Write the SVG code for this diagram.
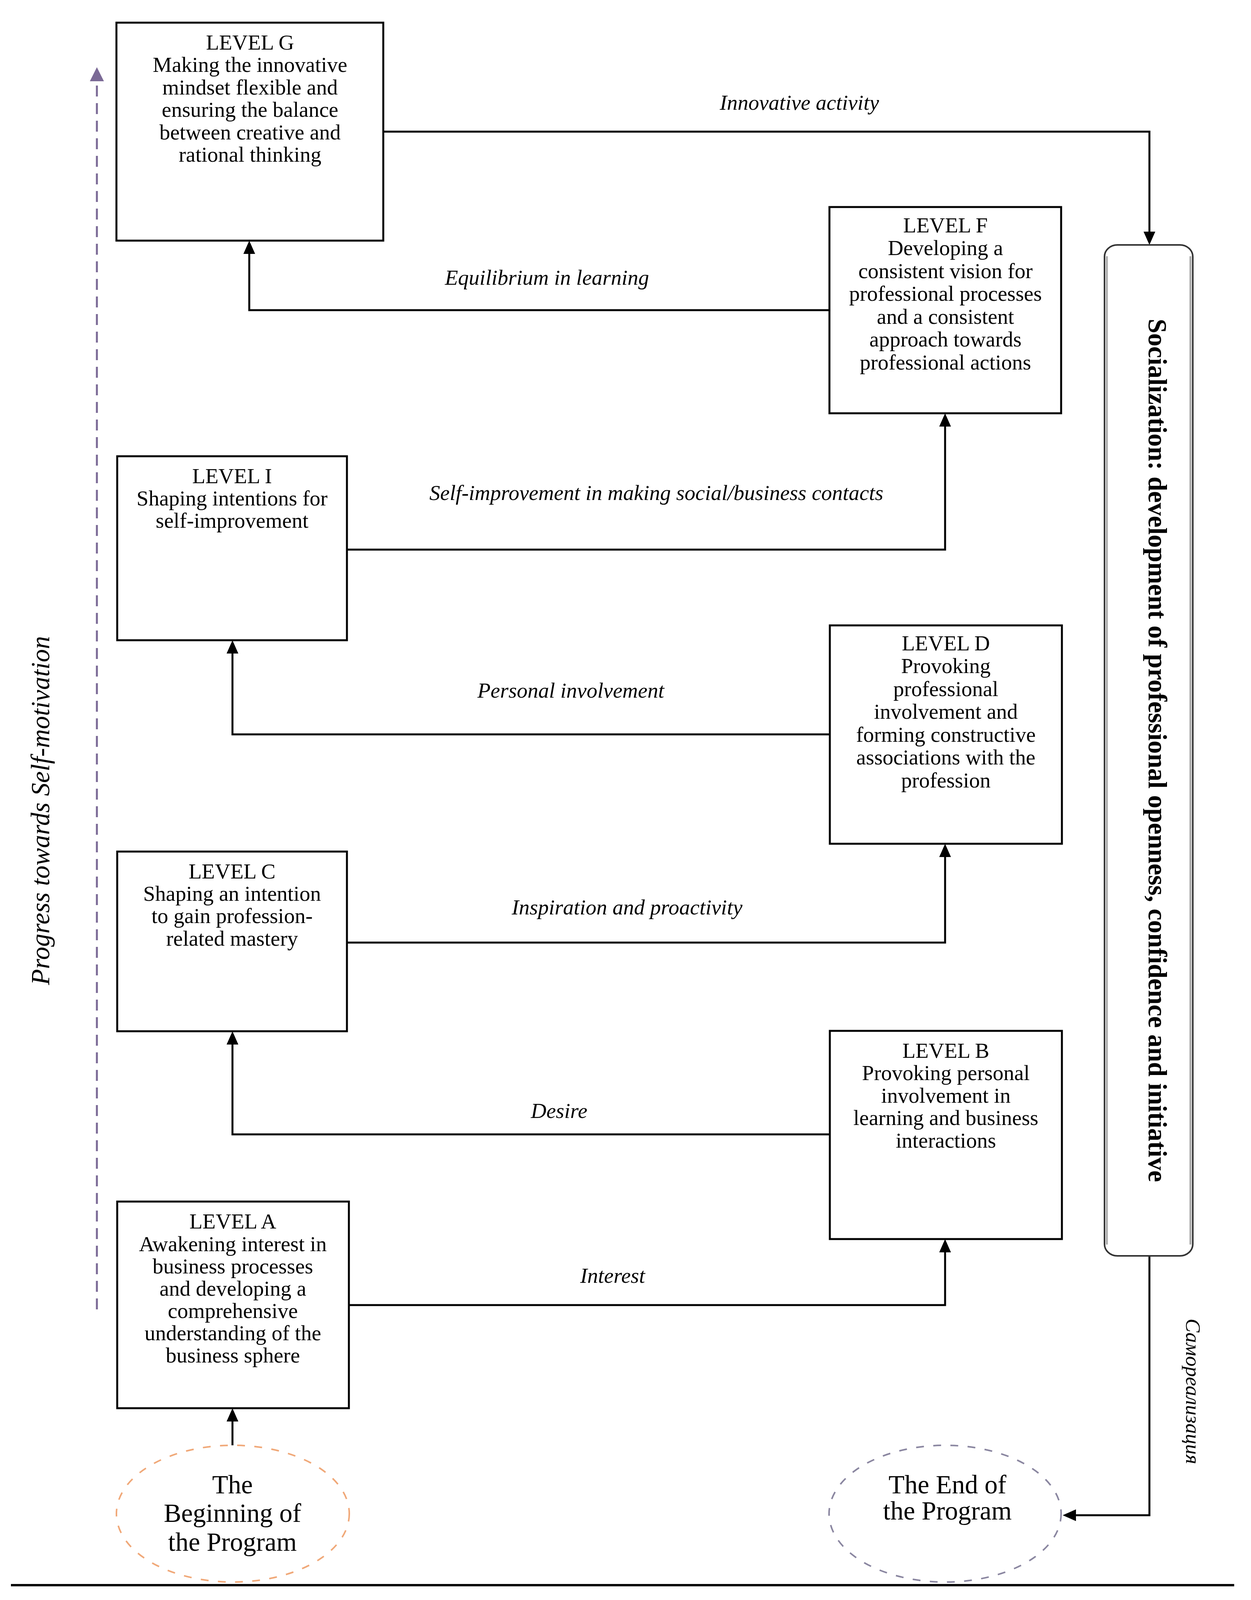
<svg xmlns="http://www.w3.org/2000/svg" width="3202" height="4455" viewBox="0 0 3202 4455">
<style>
  text { font-family: "Liberation Serif", "Times New Roman", serif; fill: #000; }
  .box { fill: #fff; stroke: #000; stroke-width: 5; }
  .bt { font-size: 55px; text-anchor: middle; }
  .lbl { font-size: 55px; font-style: italic; text-anchor: middle; }
  .conn { fill: none; stroke: #000; stroke-width: 5; }
  .circ { font-size: 67px; text-anchor: middle; }
</style>
<defs>
  <marker id="arr" markerUnits="userSpaceOnUse" markerWidth="36" markerHeight="32" viewBox="0 0 36 32" refX="24" refY="16" orient="auto">
    <path d="M0,1 L34,16 L0,31 z" fill="#000"/>
  </marker>
</defs>
<rect width="3202" height="4455" fill="#fff"/>

<g id="progress">
  <line x1="248" y1="3352" x2="248" y2="206" stroke="#7b6a96" stroke-width="5" stroke-dasharray="28 17"/>
  <polygon points="248,172 230,208 266,208" fill="#7b6a96"/>
  <text transform="translate(126,2075) rotate(-90)" font-size="67" font-style="italic" text-anchor="middle">Progress towards Self-motivation</text>
</g>

<g id="connectors">
  <path class="conn" d="M981,337 H2942 V617" marker-end="url(#arr)"/>
  <path class="conn" d="M2123,794 H638 V626" marker-end="url(#arr)"/>
  <path class="conn" d="M888,1407 H2419 V1068" marker-end="url(#arr)"/>
  <path class="conn" d="M2124,1880 H595 V1649" marker-end="url(#arr)"/>
  <path class="conn" d="M888,2413 H2419 V2170" marker-end="url(#arr)"/>
  <path class="conn" d="M2124,2904 H595 V2650" marker-end="url(#arr)"/>
  <path class="conn" d="M893,3341 H2419 V3182" marker-end="url(#arr)"/>
  <path class="conn" d="M595,3700 V3615" marker-end="url(#arr)"/>
  <path class="conn" d="M2942,3215 V3879 H2730" marker-end="url(#arr)"/>
  <text class="lbl" x="2046" y="281">Innovative activity</text>
  <text class="lbl" x="1400" y="729">Equilibrium in learning</text>
  <text class="lbl" x="1680" y="1280">Self-improvement in making social/business contacts</text>
  <text class="lbl" x="1461" y="1786">Personal involvement</text>
  <text class="lbl" x="1605" y="2341">Inspiration and proactivity</text>
  <text class="lbl" x="1431" y="2862">Desire</text>
  <text class="lbl" x="1568" y="3284">Interest</text>
</g>

<g id="levelG">
  <rect class="box" x="298" y="58" width="683" height="558"/>
  <text class="bt" x="640" y="127">LEVEL G</text>
  <text class="bt" x="640" y="184">Making the innovative</text>
  <text class="bt" x="640" y="242">mindset flexible and</text>
  <text class="bt" x="640" y="299">ensuring the balance</text>
  <text class="bt" x="640" y="357">between creative and</text>
  <text class="bt" x="640" y="414">rational thinking</text>
</g>

<g id="levelF">
  <rect class="box" x="2123" y="530" width="593" height="528"/>
  <text class="bt" x="2420" y="595">LEVEL F</text>
  <text class="bt" x="2420" y="653">Developing a</text>
  <text class="bt" x="2420" y="712">consistent vision for</text>
  <text class="bt" x="2420" y="770">professional processes</text>
  <text class="bt" x="2420" y="829">and a consistent</text>
  <text class="bt" x="2420" y="887">approach towards</text>
  <text class="bt" x="2420" y="946">professional actions</text>
</g>

<g id="levelI">
  <rect class="box" x="300" y="1168" width="588" height="471"/>
  <text class="bt" x="594" y="1237">LEVEL I</text>
  <text class="bt" x="594" y="1294">Shaping intentions for</text>
  <text class="bt" x="594" y="1351">self-improvement</text>
</g>

<g id="levelD">
  <rect class="box" x="2124" y="1601" width="594" height="559"/>
  <text class="bt" x="2421" y="1665">LEVEL D</text>
  <text class="bt" x="2421" y="1723">Provoking</text>
  <text class="bt" x="2421" y="1782">professional</text>
  <text class="bt" x="2421" y="1840">involvement and</text>
  <text class="bt" x="2421" y="1899">forming constructive</text>
  <text class="bt" x="2421" y="1957">associations with the</text>
  <text class="bt" x="2421" y="2016">profession</text>
</g>

<g id="levelC">
  <rect class="box" x="300" y="2180" width="588" height="460"/>
  <text class="bt" x="594" y="2249">LEVEL C</text>
  <text class="bt" x="594" y="2306">Shaping an intention</text>
  <text class="bt" x="594" y="2363">to gain profession-</text>
  <text class="bt" x="594" y="2421">related mastery</text>
</g>

<g id="levelB">
  <rect class="box" x="2124" y="2639" width="594" height="533"/>
  <text class="bt" x="2421" y="2708">LEVEL B</text>
  <text class="bt" x="2421" y="2765">Provoking personal</text>
  <text class="bt" x="2421" y="2823">involvement in</text>
  <text class="bt" x="2421" y="2880">learning and business</text>
  <text class="bt" x="2421" y="2938">interactions</text>
</g>

<g id="levelA">
  <rect class="box" x="300" y="3076" width="593" height="529"/>
  <text class="bt" x="596" y="3145">LEVEL A</text>
  <text class="bt" x="596" y="3203">Awakening interest in</text>
  <text class="bt" x="596" y="3260">business processes</text>
  <text class="bt" x="596" y="3317">and developing a</text>
  <text class="bt" x="596" y="3374">comprehensive</text>
  <text class="bt" x="596" y="3431">understanding of the</text>
  <text class="bt" x="596" y="3488">business sphere</text>
</g>

<g id="socialization">
  <rect x="2827" y="627" width="226" height="2588" rx="33" ry="30" fill="#fff" stroke="#333" stroke-width="4"/>
  <line x1="2833" y1="656" x2="2833" y2="3186" stroke="#aaa" stroke-width="5"/>
  <line x1="3047" y1="656" x2="3047" y2="3186" stroke="#aaa" stroke-width="5"/>
  <text transform="translate(2940,1921) rotate(90)" font-size="67" font-weight="bold" text-anchor="middle">Socialization: development of professional openness, confidence and initiative</text>
</g>

<g id="selfRealization">
  <text transform="translate(3036,3562) rotate(90)" font-size="53" font-style="italic" text-anchor="middle">Самореализация</text>
</g>

<g id="begin">
  <ellipse cx="596" cy="3875" rx="298" ry="175" fill="#fff" stroke="#f0a878" stroke-width="4" stroke-dasharray="20 24"/>
  <text class="circ" x="595" y="3823">The</text>
  <text class="circ" x="595" y="3896">Beginning of</text>
  <text class="circ" x="595" y="3970">the Program</text>
</g>

<g id="end">
  <ellipse cx="2419" cy="3875" rx="297" ry="175" fill="#fff" stroke="#8a86a0" stroke-width="4" stroke-dasharray="20 24"/>
  <text class="circ" x="2425" y="3823">The End of</text>
  <text class="circ" x="2425" y="3890">the Program</text>
</g>

<line x1="28" y1="4058" x2="3159" y2="4058" stroke="#000" stroke-width="6"/>
</svg>
